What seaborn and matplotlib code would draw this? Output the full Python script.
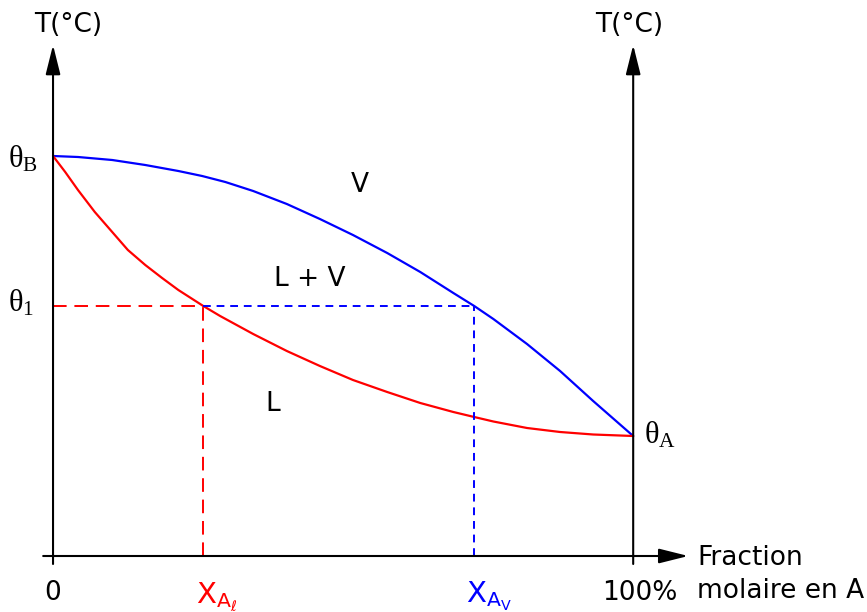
import matplotlib
matplotlib.use("Agg")
import matplotlib.pyplot as plt
import seaborn as sns
import pandas as pd

# diagramme isobare liquide / vapeur (binaire A-B)
# x : fraction molaire en A (%), y : temperature (unites arbitraires)
x_vap = [0, 4.3, 10.2, 15.9, 21.6, 25.7, 29.7, 34.5, 40.3, 46.0, 51.7, 57.6,
         63.3, 69.0, 72.6, 75.9, 81.7, 87.4, 93.1, 100]
t_vap = [400, 399, 396, 391, 385, 380, 374, 365, 352, 337, 321, 303,
         284, 263, 250, 237, 212, 185, 155, 120]

x_liq = [0, 2.1, 4.3, 7.2, 10.2, 12.9, 15.9, 18.8, 21.6, 25.9, 28.8, 34.5,
         40.3, 46.0, 51.7, 57.6, 63.3, 69.0, 72.6, 75.9, 81.7, 87.4, 93.1, 100]
t_liq = [400, 384, 366, 344, 324, 306, 291, 278, 266, 250, 240, 222,
         205, 190, 176, 164, 153, 144, 139, 134.5, 128, 124, 121.5, 120]

theta_1 = 250
x_Al = 25.9
x_Av = 72.6

sns.set_style("white")
plt.rcParams['font.family'] = ['DejaVu Sans']
plt.rcParams['text.color'] = 'black'
plt.rcParams['mathtext.fontset'] = 'custom'
plt.rcParams['mathtext.rm'] = 'Liberation Serif'
plt.rcParams['mathtext.it'] = 'Liberation Serif'
plt.rcParams['mathtext.bf'] = 'Liberation Serif'

fig = plt.figure(figsize=(8.67, 6.12), dpi=100)
ax = fig.add_axes([0, 0, 1, 1])
ax.set_xlim(-9.14, 140.3)
ax.set_ylim(-56, 556)
ax.axis("off")

vap = pd.DataFrame({"x": x_vap, "T": t_vap})
liq = pd.DataFrame({"x": x_liq, "T": t_liq})
sns.lineplot(data=vap, x="x", y="T", sort=False, color="#0000ff", lw=1.6, ax=ax,
             solid_joinstyle="round")
sns.lineplot(data=liq, x="x", y="T", sort=False, color="#ff0000", lw=1.6, ax=ax,
             solid_joinstyle="round")

# lectures des compositions a theta_1
ax.plot([0, x_Al], [theta_1, theta_1], color="#ff0000", lw=1.4, dashes=(7, 4))
ax.plot([x_Al, x_Al], [0, theta_1], color="#ff0000", lw=1.4, dashes=(7, 4))
ax.plot([x_Al, x_Av], [theta_1, theta_1], color="#0000ff", lw=1.4, dashes=(4, 3))
ax.plot([x_Av, x_Av], [0, theta_1], color="#0000ff", lw=1.4, dashes=(4, 3))

# axes avec fleches
arr = dict(arrowstyle="-|>,head_length=1.8,head_width=0.45", lw=1.5, color="black",
           shrinkA=0, shrinkB=0)
ax.annotate("", xy=(0, 511), xytext=(0, -8), arrowprops=arr)
ax.annotate("", xy=(100, 511), xytext=(100, -8), arrowprops=arr)
ax.annotate("", xy=(109.5, 0), xytext=(-1.7, 0), arrowprops=arr)

fs = 19
ax.text(2.6, 531, "T(°C)", ha="center", va="center", fontsize=fs)
ax.text(99.3, 531, "T(°C)", ha="center", va="center", fontsize=fs)

ax.text(0, -37, "0", ha="center", va="center", fontsize=fs)
ax.text(101.2, -37, "100%", ha="center", va="center", fontsize=fs)
ax.text(111, -2, "Fraction", ha="left", va="center", fontsize=fs)
ax.text(111, -35, "molaire en A", ha="left", va="center", fontsize=fs)

ax.text(52.9, 371, "V", ha="center", va="center", fontsize=fs)
ax.text(44.3, 277, "L + V", ha="center", va="center", fontsize=fs)
ax.text(37.9, 152, "L", ha="center", va="center", fontsize=fs)

ax.text(-7.8, 389, r"$\theta_{\mathrm{B}}$", ha="left", va="baseline", fontsize=22)
ax.text(-7.8, 244, r"$\theta_{\mathrm{1}}$", ha="left", va="baseline", fontsize=22)
ax.text(101.9, 113, r"$\theta_{\mathrm{A}}$", ha="left", va="baseline", fontsize=22)

ax.text(x_Al - 1.3, -47, r"$\mathrm{X}_{\mathrm{A}_{\ell}}$", ha="left", va="baseline",
        fontsize=21, color="#ff0000", math_fontfamily="dejavusans")
ax.text(x_Av - 1.4, -47, r"$\mathrm{X}_{\mathrm{A}_{\mathrm{V}}}$", ha="left", va="baseline",
        fontsize=21, color="#0000ff", math_fontfamily="dejavusans")

fig.savefig("out.png", dpi=100)
